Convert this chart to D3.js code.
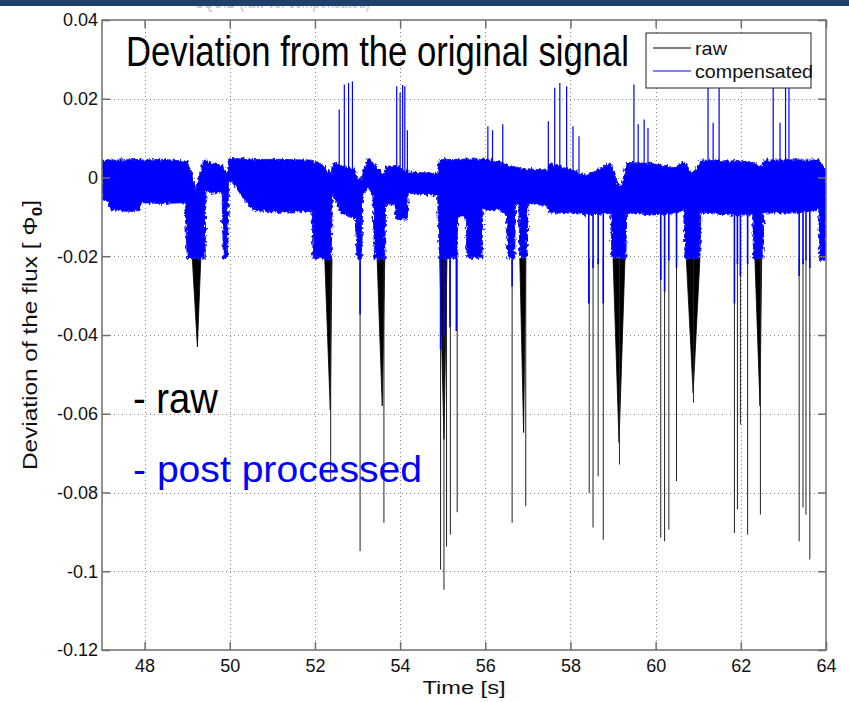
<!DOCTYPE html>
<html>
<head>
<meta charset="utf-8">
<script src="https://cdn.jsdelivr.net/npm/d3@7"></script>
<style>
  body { margin: 0; background: #fff; }
  svg { display: block; }
  text { font-family: "Liberation Sans", Arial, sans-serif; }
</style>
</head>
<body>
<svg id="chart" width="849" height="702"></svg>
<script>
// axis ticks
var xTicks = [48, 50, 52, 54, 56, 58, 60, 62, 64];
var yTicks = [0.04, 0.02, 0, -0.02, -0.04, -0.06, -0.08, -0.1, -0.12];
var yTickLabels = ['0.04', '0.02', '0', '-0.02', '-0.04', '-0.06', '-0.08', '-0.1', '-0.12'];

// compensated signal: envelope of the noise band (time, upper, lower)
var bandT  = [47.00, 47.15, 47.19, 47.60, 47.89, 47.92, 48.40, 48.95, 49.00, 49.12, 49.20, 49.28, 49.38, 49.42, 49.44, 49.60, 49.82, 49.85, 49.95, 49.97,
              50.05, 50.54, 51.20, 51.93, 51.96, 52.15, 52.38, 52.41, 52.50, 52.62, 52.95, 52.99, 53.10, 53.12, 53.25, 53.36, 53.40, 53.64, 53.66, 53.88,
              53.90, 54.17, 54.19, 54.88, 54.92, 55.33, 55.35, 55.55, 55.57, 55.92, 55.94, 56.30, 56.50, 56.53, 56.69, 56.71, 56.79, 56.81, 56.98, 57.00,
              57.45, 57.50, 58.00, 58.38, 58.80, 58.95, 58.97, 59.10, 59.20, 59.30, 59.32, 59.90, 60.40, 60.66, 60.69, 60.85, 61.04, 61.06, 61.80, 62.28,
              62.30, 62.52, 62.54, 63.30, 63.65, 63.83, 63.85, 64.00];
var bandHi = [0.0040, 0.0046, 0.0044, 0.0045, 0.0046, 0.0044, 0.0046, 0.0042, 0.0040, 0.0005, -0.0030, 0.0005, 0.0042, 0.0044, 0.0044, 0.0036, 0.0030, 0.0022, 0.0012, 0.0046,
              0.0048, 0.0046, 0.0046, 0.0044, 0.0040, 0.0034, 0.0008, 0.0035, 0.0035, 0.0030, 0.0020, -0.0005, -0.0005, 0.0010, 0.0050, 0.0040, 0.0030, 0.0005, 0.0028, 0.0030,
              0.0030, 0.0015, 0.0014, 0.0010, 0.0045, 0.0046, 0.0046, 0.0047, 0.0047, 0.0046, 0.0048, 0.0040, 0.0032, 0.0030, 0.0028, 0.0028, 0.0025, 0.0025, 0.0018, 0.0022,
              0.0018, 0.0036, 0.0020, 0.0005, 0.0030, 0.0036, 0.0032, -0.0015, -0.0025, 0.0030, 0.0038, 0.0036, 0.0025, 0.0040, 0.0038, 0.0010, 0.0035, 0.0044, 0.0042, 0.0040,
              0.0036, 0.0028, 0.0044, 0.0045, 0.0044, 0.0046, 0.0040, 0.0020];
var bandLo = [-0.0058, -0.0062, -0.0082, -0.0086, -0.0084, -0.0064, -0.0066, -0.0064, -0.0205, -0.0205, -0.0205, -0.0205, -0.0205, -0.0205, -0.0032, -0.0040, -0.0036, -0.0205, -0.0205, -0.0014,
              -0.0012, -0.0084, -0.0088, -0.0086, -0.0205, -0.0205, -0.0210, -0.0040, -0.0060, -0.0090, -0.0105, -0.0205, -0.0205, -0.0050, -0.0024, -0.0045, -0.0205, -0.0210, -0.0065, -0.0070,
              -0.0107, -0.0105, -0.0040, -0.0045, -0.0205, -0.0205, -0.0100, -0.0100, -0.0205, -0.0205, -0.0082, -0.0082, -0.0092, -0.0205, -0.0205, -0.0070, -0.0070, -0.0205, -0.0205, -0.0066,
              -0.0072, -0.0090, -0.0090, -0.0095, -0.0092, -0.0090, -0.0205, -0.0205, -0.0205, -0.0205, -0.0090, -0.0095, -0.0092, -0.0082, -0.0205, -0.0205, -0.0205, -0.0090, -0.0095, -0.0095,
              -0.0205, -0.0205, -0.0090, -0.0090, -0.0085, -0.0080, -0.0210, -0.0210];

// compensated signal: isolated spikes above and below the band
var spikeUpT   = [52.57, 52.69, 52.79, 52.88, 53.92, 54.00, 54.06, 54.11, 54.17, 56.06, 56.17, 56.41, 57.48, 57.63, 57.75, 57.91, 58.06, 58.20,
                  59.49, 59.59, 59.73, 59.82, 61.23, 61.35, 61.49, 62.76, 62.92, 63.05, 63.13];
var spikeUpV   = [0.0173, 0.0236, 0.0240, 0.0244, 0.0232, 0.0215, 0.0235, 0.0232, 0.0120, 0.0130, 0.0120, 0.0135, 0.0143, 0.0228, 0.0240, 0.0232, 0.0130, 0.0105,
                  0.0236, 0.0135, 0.0147, 0.0126, 0.0232, 0.0139, 0.0229, 0.0229, 0.0139, 0.0232, 0.0229];
var spikeDownT = [53.06, 54.95, 55.03, 55.17, 55.32, 56.63, 58.43, 58.53, 58.65, 58.77, 60.12, 60.21, 60.31, 60.49, 61.85, 61.92, 61.99, 62.16, 63.37, 63.46, 63.53, 63.62];
var spikeDownV = [-0.0348, -0.0437, -0.0400, -0.0380, -0.0390, -0.0277, -0.0320, -0.0230, -0.0220, -0.0320, -0.0260, -0.0290, -0.0210, -0.0230, -0.0320, -0.0220, -0.0250, -0.0220, -0.0250, -0.0220, -0.0210, -0.0230];

// raw signal below the compensated floor: thin spikes and wide dips
var rawLineT = [52.37, 53.06, 53.62, 54.95, 55.03, 55.09, 55.18, 55.34, 56.63, 56.95, 58.44, 58.53, 58.65, 58.77, 59.15, 60.12, 60.21, 60.31, 60.49, 60.89,
                61.85, 61.92, 61.99, 62.16, 62.46, 63.37, 63.46, 63.53, 63.62];
var rawLineV = [-0.0767, -0.0949, -0.0877, -0.0996, -0.1047, -0.0937, -0.0907, -0.0850, -0.0877, -0.0835, -0.0801, -0.0889, -0.0759, -0.0920, -0.0729, -0.0915, -0.0924, -0.0894, -0.0771, -0.0572,
                -0.0903, -0.0843, -0.0627, -0.0907, -0.0856, -0.0924, -0.0838, -0.0856, -0.0970];
var dipStart = [49.12, 52.23, 53.46, 54.93, 56.81, 59.00, 60.72, 62.33];
var dipEnd   = [49.32, 52.40, 53.64, 55.10, 56.95, 59.28, 61.04, 62.49];
var dipTipT  = [49.24, 52.36, 53.58, 55.03, 56.90, 59.14, 60.88, 62.45];
var dipTipV  = [-0.0430, -0.0590, -0.0580, -0.0665, -0.0648, -0.0673, -0.0547, -0.0580];

var floorV = -0.0205;

var svg = d3.select('#chart'),
    width = +svg.attr('width'),
    height = +svg.attr('height');

var x = d3.scaleLinear().domain([47, 64]).range([102, 826]);
var y = d3.scaleLinear().domain([-0.12, 0.04]).range([650, 20]);

// texture for the noisy band edges
var defs = svg.append('defs');
var rough = defs.append('filter').attr('id', 'rough')
  .attr('x', '-2%').attr('y', '-10%').attr('width', '104%').attr('height', '120%');
rough.append('feTurbulence').attr('type', 'fractalNoise')
  .attr('baseFrequency', '0.45 0.25').attr('numOctaves', 2).attr('seed', 7).attr('result', 'noise');
rough.append('feDisplacementMap').attr('in', 'SourceGraphic').attr('in2', 'noise')
  .attr('scale', 6).attr('xChannelSelector', 'R').attr('yChannelSelector', 'G');

// header bar of the slide, with the cut-off title under it
svg.append('text')
  .attr('x', 195).attr('y', 8)
  .attr('font-size', 20)
  .attr('fill', '#c4c4c4')
  .attr('textLength', 175).attr('lengthAdjust', 'spacingAndGlyphs')
  .text('SQUID (raw vs. compensated)');
svg.append('rect')
  .attr('x', 0).attr('y', 0).attr('width', width).attr('height', 6)
  .attr('fill', '#213f6b');

defs.append('clipPath').attr('id', 'plot-clip')
  .append('rect')
  .attr('x', x(47)).attr('y', y(0.04))
  .attr('width', x(64) - x(47)).attr('height', y(-0.12) - y(0.04));

// grid
var grid = svg.append('g').attr('stroke', '#8a8a8a').attr('stroke-dasharray', '1,3').attr('stroke-width', 1);
grid.selectAll('.gx').data(xTicks.filter(d => d < 64)).enter().append('line')
  .attr('x1', d => Math.round(x(d)) + 0.5).attr('x2', d => Math.round(x(d)) + 0.5)
  .attr('y1', y(0.04)).attr('y2', y(-0.12));
grid.selectAll('.gy').data(yTicks.filter(d => d < 0.039 && d > -0.119)).enter().append('line')
  .attr('y1', d => Math.round(y(d)) + 0.5).attr('y2', d => Math.round(y(d)) + 0.5)
  .attr('x1', x(47)).attr('x2', x(64));

var plot = svg.append('g').attr('clip-path', 'url(#plot-clip)');

// raw signal (black), drawn first
var dips = dipStart.map((s, i) => ({ s: s, e: dipEnd[i], t: dipTipT[i], v: dipTipV[i] }));
plot.selectAll('.dip').data(dips).enter().append('path')
  .attr('d', d => 'M' + x(d.s) + ',' + y(floorV) + 'L' + x(d.e) + ',' + y(floorV) + 'L' + x(d.t) + ',' + y(d.v) + 'Z')
  .attr('fill', '#000').attr('stroke', '#000').attr('stroke-width', 0.8);

var rawLines = rawLineT.map((t, i) => ({ t: t, v: rawLineV[i] }));
plot.selectAll('.raw-line').data(rawLines).enter().append('line')
  .attr('x1', d => x(d.t)).attr('x2', d => x(d.t))
  .attr('y1', y(floorV)).attr('y2', d => y(d.v))
  .attr('stroke', '#222').attr('stroke-width', 1);

// compensated signal (blue)
var band = bandT.map((t, i) => ({ t: t, hi: bandHi[i], lo: bandLo[i] }));
var area = d3.area()
  .x(d => x(d.t))
  .y0(d => y(d.lo))
  .y1(d => y(d.hi));
plot.append('g').attr('filter', 'url(#rough)')
  .append('path').datum(band)
  .attr('d', area)
  .attr('fill', '#0000ff').attr('stroke', '#1a1aff').attr('stroke-width', 1);

var ups = spikeUpT.map((t, i) => ({ t: t, v: spikeUpV[i] }));
plot.selectAll('.up').data(ups).enter().append('line')
  .attr('x1', d => x(d.t)).attr('x2', d => x(d.t))
  .attr('y1', y(0)).attr('y2', d => y(d.v))
  .attr('stroke', '#0000ff').attr('stroke-width', 1.2);

var downs = spikeDownT.map((t, i) => ({ t: t, v: spikeDownV[i] }));
plot.selectAll('.down').data(downs).enter().append('line')
  .attr('x1', d => x(d.t)).attr('x2', d => x(d.t))
  .attr('y1', y(0)).attr('y2', d => y(d.v))
  .attr('stroke', '#0000ff').attr('stroke-width', 1.6);

// axes box and ticks
var axisColor = '#6e6e6e';
svg.append('rect')
  .attr('x', x(47)).attr('y', y(0.04))
  .attr('width', x(64) - x(47)).attr('height', y(-0.12) - y(0.04))
  .attr('fill', 'none').attr('stroke', axisColor).attr('stroke-width', 1.5);

var xAxis = d3.axisBottom(x).tickValues(xTicks).tickSizeInner(-8).tickSizeOuter(0).tickPadding(9);
var gx = svg.append('g').attr('transform', 'translate(0,' + y(-0.12) + ')').call(xAxis);
var xTop = d3.axisTop(x).tickValues(xTicks).tickSizeInner(-8).tickSizeOuter(0).tickFormat('');
svg.append('g').attr('transform', 'translate(0,' + y(0.04) + ')').call(xTop);

var yAxis = d3.axisLeft(y).tickValues(yTicks).tickSizeInner(-8).tickSizeOuter(0).tickPadding(4)
  .tickFormat((d, i) => yTickLabels[i]);
var gy = svg.append('g').attr('transform', 'translate(' + x(47) + ',0)').call(yAxis);
var yRight = d3.axisRight(y).tickValues(yTicks).tickSizeInner(-8).tickSizeOuter(0).tickFormat('');
svg.append('g').attr('transform', 'translate(' + x(64) + ',0)').call(yRight);

svg.selectAll('.domain').remove();
svg.selectAll('.tick line').attr('stroke', axisColor).attr('stroke-width', 1.5);
svg.selectAll('.tick text').attr('font-size', 18).attr('fill', '#111')
  .style('font-family', '"Liberation Sans", Arial, sans-serif');
gx.selectAll('.tick text').attr('dy', '0.71em');

// axis labels
svg.append('text')
  .attr('x', (x(47) + x(64)) / 2).attr('y', 694)
  .attr('text-anchor', 'middle').attr('font-size', 18).attr('fill', '#111')
  .attr('textLength', 83).attr('lengthAdjust', 'spacingAndGlyphs')
  .text('Time [s]');

var yl = svg.append('text')
  .attr('transform', 'translate(37,' + (y(0.04) + y(-0.12)) / 2 + ') rotate(-90)')
  .attr('text-anchor', 'middle').attr('font-size', 20).attr('fill', '#111')
  .attr('textLength', 270).attr('lengthAdjust', 'spacingAndGlyphs');
yl.append('tspan').text('Deviation of the flux [  \u03A6');
yl.append('tspan').attr('font-size', 14).attr('dy', 5).attr('font-weight', 'bold').text('0');
yl.append('tspan').attr('dy', -5).text(']');

// legend
var lg = svg.append('g');
lg.append('rect').attr('x', 646).attr('y', 33).attr('width', 165).attr('height', 55)
  .attr('fill', '#fff').attr('stroke', '#222').attr('stroke-width', 1);
var legendItems = [{ name: 'raw', color: '#000' }, { name: 'compensated', color: '#0000ff' }];
var li = lg.selectAll('.li').data(legendItems).enter().append('g')
  .attr('transform', (d, i) => 'translate(0,' + (48 + i * 23) + ')');
li.append('line').attr('x1', 653).attr('x2', 691).attr('y1', 0).attr('y2', 0)
  .attr('stroke', d => d.color).attr('stroke-width', 1);
li.append('text').attr('x', 695).attr('y', 7).attr('font-size', 18).attr('fill', '#111')
  .attr('textLength', d => d.name === 'raw' ? 32 : 118).attr('lengthAdjust', 'spacingAndGlyphs')
  .text(d => d.name);

// annotations
svg.append('text')
  .attr('x', 126).attr('y', 66)
  .attr('font-size', 42).attr('fill', '#000')
  .attr('textLength', 503).attr('lengthAdjust', 'spacingAndGlyphs')
  .text('Deviation from the original signal');
svg.append('text')
  .attr('x', 133).attr('y', 413)
  .attr('font-size', 42).attr('fill', '#000')
  .attr('textLength', 85).attr('lengthAdjust', 'spacingAndGlyphs')
  .text('- raw');
svg.append('text')
  .attr('x', 133).attr('y', 482)
  .attr('font-size', 36).attr('fill', '#0000ff')
  .attr('textLength', 289).attr('lengthAdjust', 'spacingAndGlyphs')
  .text('- post processed');
</script>
</body>
</html>
